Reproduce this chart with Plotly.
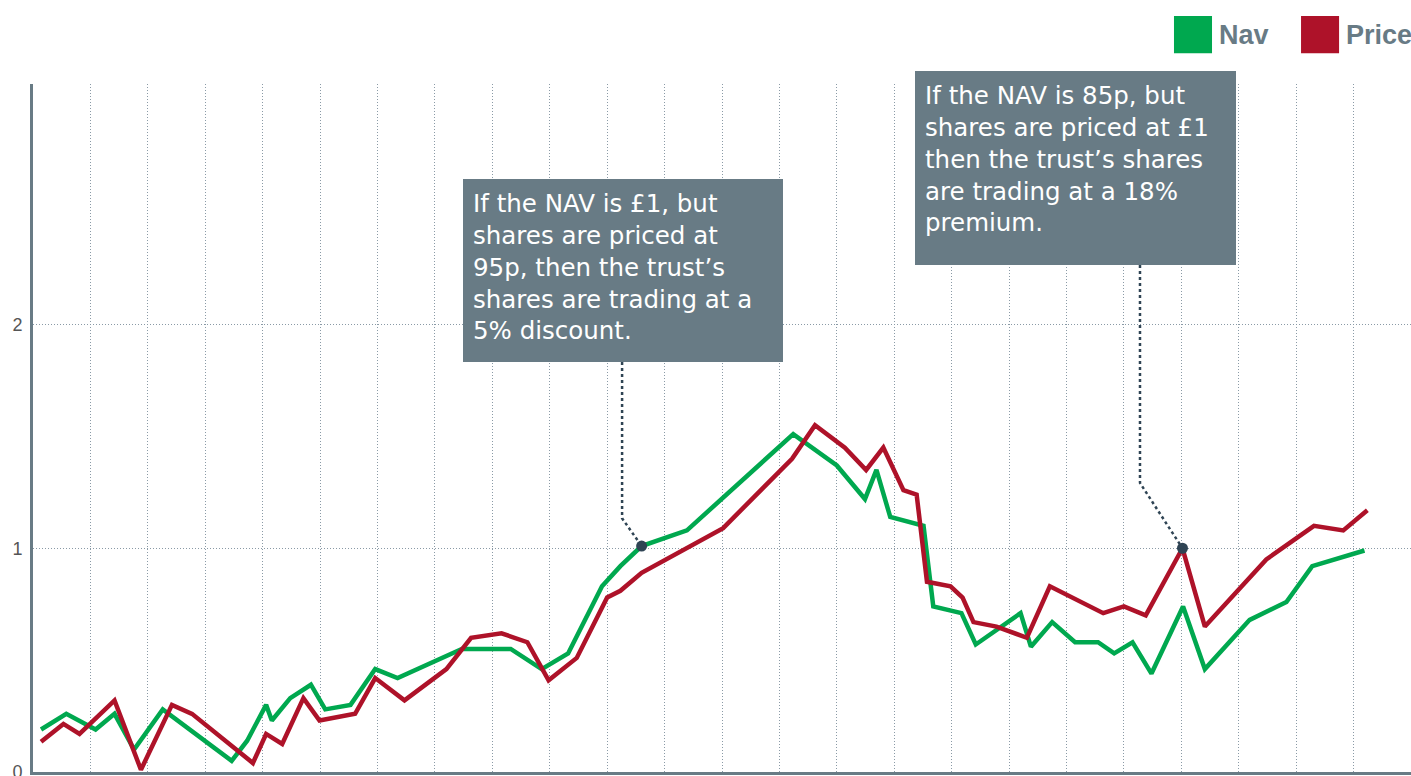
import plotly.graph_objects as go

# ---- data ----
nav_x = [0.14, 0.58, 1.09, 1.42, 1.76, 2.26, 3.46, 3.73, 4.06, 4.16, 4.48, 4.84, 5.09, 5.53, 5.96, 6.35,
         7.47, 8.32, 8.86, 9.32, 9.91, 10.23, 10.60, 11.39, 13.24, 14.00, 14.49, 14.69, 14.93, 15.51,
         15.68, 16.17, 16.42, 17.20, 17.38, 17.75, 18.15, 18.55, 18.83, 19.15, 19.48, 20.03, 20.41,
         21.19, 21.83, 22.28, 23.19]
nav_y = [0.19, 0.26, 0.19, 0.26, 0.10, 0.28, 0.05, 0.14, 0.30, 0.23, 0.33, 0.39, 0.28, 0.30, 0.46, 0.42,
         0.55, 0.55, 0.46, 0.53, 0.83, 0.92, 1.01, 1.08, 1.51, 1.37, 1.22, 1.35, 1.14, 1.10,
         0.74, 0.71, 0.57, 0.71, 0.56, 0.67, 0.58, 0.58, 0.53, 0.58, 0.44, 0.74, 0.46,
         0.68, 0.76, 0.92, 0.99]

price_x = [0.14, 0.53, 0.81, 1.42, 1.88, 2.42, 2.77, 3.83, 4.06, 4.34, 4.71, 4.99, 5.61, 5.96, 6.47, 7.20,
           7.63, 8.16, 8.61, 8.98, 9.47, 10.00, 10.23, 10.60, 12.02, 13.22, 13.62, 14.14, 14.51, 14.81,
           15.16, 15.39, 15.57, 15.98, 16.19, 16.38, 16.78, 17.31, 17.71, 18.64, 19.00, 19.38, 20.02,
           20.41, 21.48, 22.31, 22.82, 23.24]
price_y = [0.135, 0.215, 0.17, 0.32, 0.01, 0.30, 0.26, 0.04, 0.17, 0.125, 0.33, 0.23, 0.26, 0.42, 0.32, 0.46,
           0.60, 0.62, 0.58, 0.41, 0.51, 0.78, 0.81, 0.89, 1.09, 1.40, 1.55, 1.45, 1.35, 1.45,
           1.26, 1.24, 0.85, 0.83, 0.78, 0.67, 0.65, 0.60, 0.83, 0.71, 0.74, 0.70, 1.00,
           0.65, 0.95, 1.10, 1.08, 1.17]

series_names = ["Nav", "Price"]
y_tick_vals = [0, 1, 2]
y_tick_text = ["0", "1", "2"]

discount_idx = 22   # index into nav series
premium_idx = 42    # index into price series
discount_text = "If the NAV is £1, but<br>shares are priced at<br>95p, then the trust’s<br>shares are trading at a<br>5% discount."
premium_text = "If the NAV is 85p, but<br>shares are priced at £1<br>then the trust’s shares<br>are trading at a 18%<br>premium."

GREEN = "#00a84f"
RED = "#ae1229"
GREY = "#687b85"
DARK = "#2f4454"
GRID = "#8a9aa6"

fig = go.Figure()
fig.add_trace(go.Scatter(x=nav_x, y=nav_y, mode="lines", name=series_names[0],
                         line=dict(color=GREEN, width=4.5), showlegend=False))
fig.add_trace(go.Scatter(x=price_x, y=price_y, mode="lines", name=series_names[1],
                         line=dict(color=RED, width=4.5), showlegend=False))
fig.add_trace(go.Scatter(x=[nav_x[discount_idx], price_x[premium_idx]],
                         y=[nav_y[discount_idx], price_y[premium_idx]],
                         mode="markers", marker=dict(color=DARK, size=11), showlegend=False,
                         hoverinfo="skip"))

# connectors (dotted)
fig.add_shape(type="path",
              path=f"M 10.26 1.833 L 10.26 1.134 L {nav_x[discount_idx]} {nav_y[discount_idx]}",
              xref="x", yref="y", line=dict(color=DARK, width=2.5, dash="dot"))
fig.add_shape(type="path",
              path=f"M 19.28 2.266 L 19.28 1.292 L {price_x[premium_idx]} {price_y[premium_idx]}",
              xref="x", yref="y", line=dict(color=DARK, width=2.5, dash="dot"))

# annotation boxes
box_font = dict(family="DejaVu Sans", size=24.5, color="white")
fig.add_annotation(text=discount_text, xref="paper", yref="paper", x=0.312, y=0.862,
                   xanchor="left", yanchor="top", align="left", valign="top",
                   showarrow=False, bgcolor=GREY, borderwidth=0, borderpad=10,
                   width=300, height=163, font=box_font)
fig.add_annotation(text=premium_text, xref="paper", yref="paper", x=0.640, y=1.019,
                   xanchor="left", yanchor="top", align="left", valign="top",
                   showarrow=False, bgcolor=GREY, borderwidth=0, borderpad=10,
                   width=301, height=174, font=box_font)

# custom legend
legend_font = dict(family="Liberation Sans", size=27, color=GREY)
for x0, x1, col, tx, name in [(0.8280, 0.8556, GREEN, 0.860, series_names[0]),
                              (0.9202, 0.9478, RED, 0.9521, series_names[1])]:
    fig.add_shape(type="rect", xref="paper", yref="paper", x0=x0, x1=x1, y0=1.0446, y1=1.0988,
                  fillcolor=col, line=dict(width=0))
    fig.add_annotation(text=f"<b>{name}</b>", xref="paper", yref="paper", x=tx, y=1.0712,
                       xanchor="left", yanchor="middle", showarrow=False, font=legend_font,
                       borderpad=0)

fig.update_layout(
    width=1411, height=776,
    margin=dict(l=33, r=0, t=84, b=4, autoexpand=False),
    paper_bgcolor="white", plot_bgcolor="white",
    hovermode=False,
    xaxis=dict(range=[0, 24], tick0=0, dtick=1, showticklabels=False, ticks="",
               showgrid=True, gridcolor=GRID, gridwidth=1, griddash="1px,2px",
               showline=True, linecolor=GREY, linewidth=3, zeroline=False, automargin=False),
    yaxis=dict(range=[0, 3.075], tickvals=y_tick_vals, ticktext=y_tick_text, ticks="",
               showgrid=True, gridcolor=GRID, gridwidth=1, griddash="1px,2px",
               showline=True, linecolor=GREY, linewidth=3, zeroline=False, automargin=False,
               tickfont=dict(family="Liberation Sans", size=18, color="#555555"),
               ticklabelstandoff=4, ticklabeloverflow="allow"),
)

fig.write_html("out.html", config={"displayModeBar": False},
               post_script="document.body.style.margin='0';document.body.style.overflow='hidden';")
